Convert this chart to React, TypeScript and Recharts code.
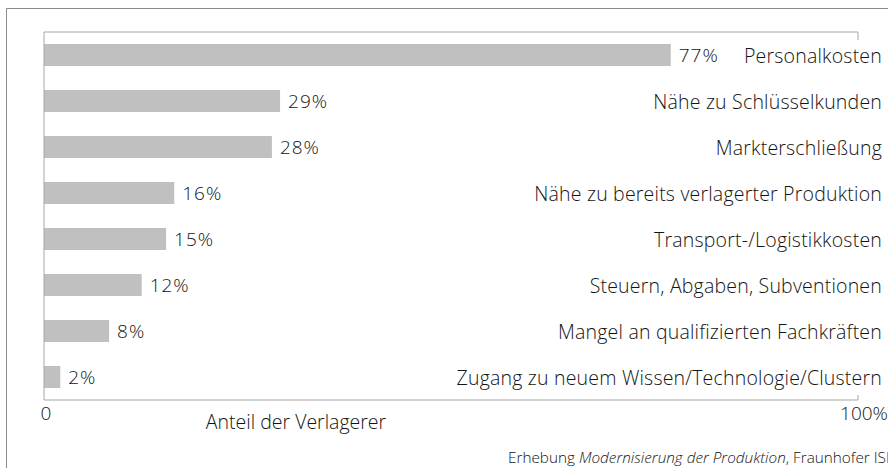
import { BarChart, Bar, XAxis, YAxis, LabelList, usePlotArea } from "recharts";

const categories = [
  "Personalkosten",
  "Nähe zu Schlüsselkunden",
  "Markterschließung",
  "Nähe zu bereits verlagerter Produktion",
  "Transport-/Logistikkosten",
  "Steuern, Abgaben, Subventionen",
  "Mangel an qualifizierten Fachkräften",
  "Zugang zu neuem Wissen/Technologie/Clustern",
];
const shares = [77, 29, 28, 16, 15, 12, 8, 2];
const xTicks = [0, 100];

const data = categories.map((name, i) => ({ name, share: shares[i] }));

const FONT = "'Open Sans', 'Noto Sans', sans-serif";
const TEXT = "#141414";
const AXIS = "#a6a6a6";

// small corner ticks at the 100% end of the box
function CornerTicks() {
  const area = usePlotArea();
  if (!area) return null;
  const right = area.x + area.width;
  const bottom = area.y + area.height;
  return (
    <g stroke={AXIS} strokeWidth={1}>
      <line x1={right} y1={area.y} x2={right} y2={area.y + 8} />
      <line x1={right} y1={bottom} x2={right} y2={bottom - 5} />
    </g>
  );
}

function NameLabel(props: any) {
  const { y, height, index } = props;
  return (
    <text
      x={882}
      y={y + height / 2}
      textAnchor="end"
      dominantBaseline="central"
      fontFamily={FONT}
      fontWeight={300}
      fontSize={19.5}
      letterSpacing={0.2}
      fill={TEXT}
    >
      {categories[index]}
    </text>
  );
}

function XTick(props: any) {
  const { x, y, payload } = props;
  const isMax = payload.value === 100;
  return (
    <text
      x={isMax ? x + 6 : x + 2}
      y={y + 12}
      textAnchor="middle"
      fontFamily={FONT}
      fontWeight={300}
      fontSize={19}
      fill={TEXT}
    >
      {isMax ? "100%" : "0"}
    </text>
  );
}

export default function App() {
  return (
    <div style={{ position: "absolute", left: 0, top: 0, width: 888, height: 468, background: "#fff" }}>
      <svg width={888} height={468} style={{ position: "absolute", left: 0, top: 0 }}>
        <line x1={6.5} y1={8.5} x2={888} y2={8.5} stroke="#8c8c8c" />
        <line x1={6.5} y1={8.5} x2={6.5} y2={468} stroke="#8c8c8c" />
        <text x={296} y={429} textAnchor="middle" fontFamily={FONT} fontWeight={300} fontSize={19.5} fill={TEXT}>
          Anteil der Verlagerer
        </text>
        <text x={508} y={463} fontFamily={FONT} fontWeight={300} fontSize={15.3} fill={TEXT}>
          Erhebung <tspan fontStyle="italic">Modernisierung der Produktion</tspan>, Fraunhofer ISI
        </text>
      </svg>
      <div style={{ position: "absolute", left: 0, top: 0 }}>
        <BarChart
          width={888}
          height={468}
          data={data}
          layout="vertical"
          margin={{ top: 31, right: 30, bottom: 38, left: 43 }}
          barSize={22}
        >
          <XAxis
            type="number"
            dataKey="share"
            domain={[0, 100]}
            ticks={xTicks}
            height={30}
            axisLine={{ stroke: AXIS }}
            tickLine={false}
            tick={<XTick />}
            interval={0}
          />
          <XAxis
            xAxisId="top"
            orientation="top"
            type="number"
            domain={[0, 100]}
            height={1}
            axisLine={{ stroke: AXIS }}
            tickLine={false}
            tick={false}
          />
          <YAxis
            type="category"
            dataKey="name"
            width={1}
            axisLine={{ stroke: AXIS }}
            tickLine={false}
            tick={false}
          />
          <Bar dataKey="share" fill="#c0c0c0" isAnimationActive={false}>
            <LabelList
              dataKey="share"
              position="right"
              offset={8}
              formatter={(v: any) => `${v}%`}
              style={{ fontFamily: FONT, fontWeight: 300, fontSize: 19, letterSpacing: 1, fill: TEXT }}
            />
            <LabelList dataKey="name" content={<NameLabel />} />
          </Bar>
          <CornerTicks />
        </BarChart>
      </div>
    </div>
  );
}
